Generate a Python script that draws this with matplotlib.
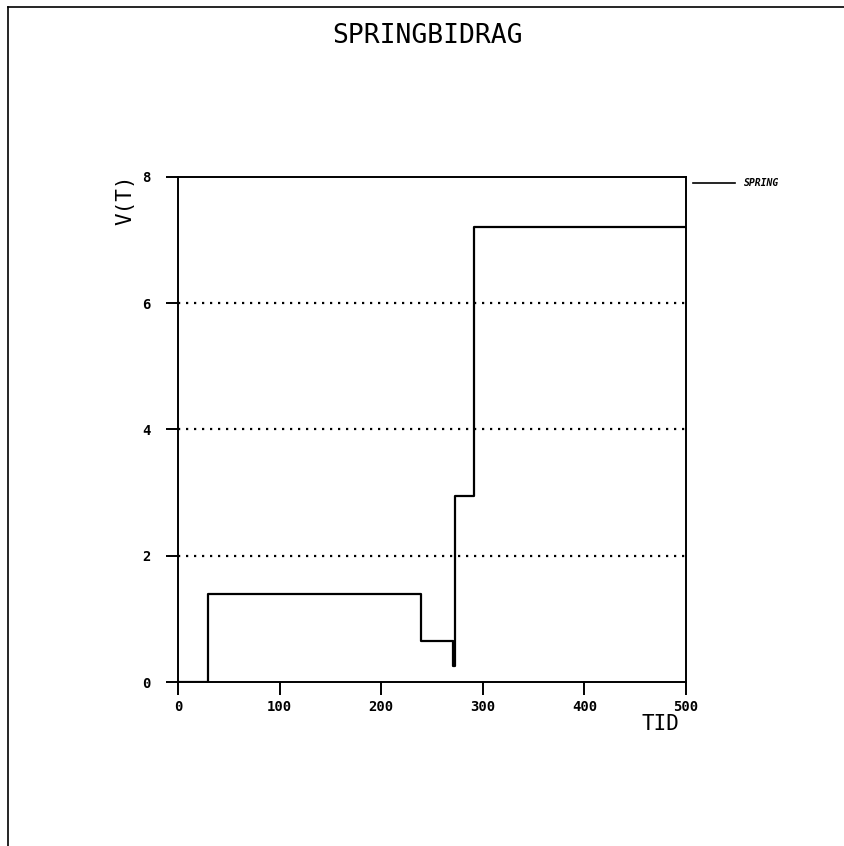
import matplotlib
matplotlib.use("Agg")
import matplotlib.pyplot as plt
from matplotlib.lines import Line2D

# data
tid = [0, 29.5, 239, 271, 273, 291, 500]
spring = [0, 1.4, 0.65, 0.25, 2.95, 7.2, 7.2]
xticks = [0, 100, 200, 300, 400, 500]
yticks = [0, 2, 4, 6, 8]

mono = "DejaVu Sans Mono"

fig = plt.figure(figsize=(8.45, 8.46), dpi=100)
ax = fig.add_axes([178 / 845, 1 - 682 / 846, 508 / 845, 505 / 846])

ax.plot(tid, spring, drawstyle="steps-post", color="black", linewidth=1.6)

# dotted horizontal grid
for y in yticks[1:-1]:
    ax.axhline(y, color="black", linestyle=(0, (1, 2.6)), linewidth=1.6)

ax.set_xlim(0, 500)
ax.set_ylim(0, 8)
ax.set_xticks(xticks)
ax.set_yticks(yticks)
ax.tick_params(axis="both", direction="out", length=9, width=1.4,
               labelsize=10)
ax.tick_params(axis="x", pad=4)
ax.tick_params(axis="y", pad=11)
for lab in ax.get_xticklabels() + ax.get_yticklabels():
    lab.set_family(mono)
    lab.set_fontweight("bold")

for s in ax.spines.values():
    s.set_linewidth(1.4)

fig.text(427 / 845, 1 - 36 / 846, "SPRINGBIDRAG", ha="center", va="center",
         family=mono, fontsize=19, fontweight="light")
fig.text(125 / 845, 1 - 200 / 846, "V(T)", ha="center", va="center",
         rotation=90, family=mono, fontsize=15)
fig.text(660 / 845, 1 - 724 / 846, "TID", ha="center", va="center",
         family=mono, fontsize=15)

# legend entry to the right
fig.add_artist(Line2D([693 / 845, 735 / 845], [1 - 183 / 846, 1 - 183 / 846],
                      color="black", linewidth=1.2))
fig.text(744 / 845, 1 - 183 / 846, "SPRING", ha="left", va="center",
         family=mono, fontsize=7, fontweight="bold", style="italic")

# page frame (top and left edges)
fig.add_artist(Line2D([8 / 845, 1], [1 - 7 / 846, 1 - 7 / 846],
                      color="black", linewidth=1.2))
fig.add_artist(Line2D([8 / 845, 8 / 845], [0, 1 - 7 / 846],
                      color="black", linewidth=1.2))

fig.savefig("out.png", dpi=100)
